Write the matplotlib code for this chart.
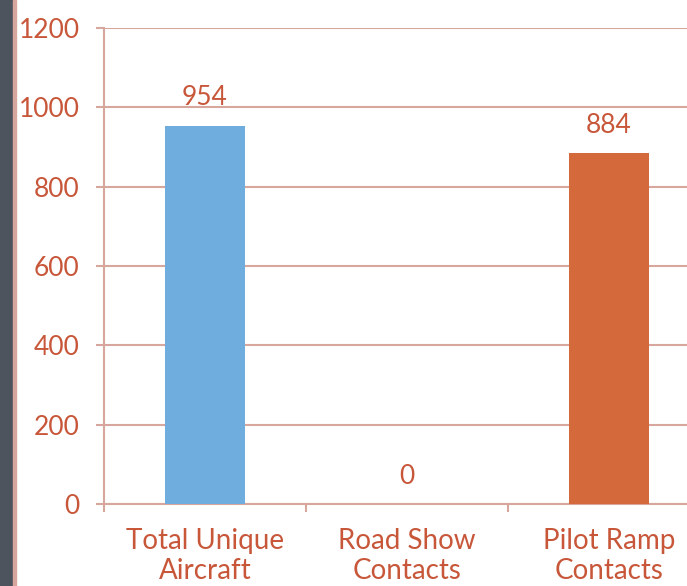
import matplotlib
matplotlib.use("Agg")
import matplotlib.pyplot as plt
from matplotlib.patches import Rectangle

categories = ["Total Unique\nAircraft", "Road Show\nContacts", "Pilot Ramp\nContacts"]
values = [954, 0, 884]
bar_colors = ["#6FADDF", "#D4693B", "#D4693B"]
y_ticks = [0, 200, 400, 600, 800, 1000, 1200]

text_color = "#C8573A"
grid_color = "#D7A69C"

plt.rcParams['font.family'] = ['Lato', 'DejaVu Sans']

fig = plt.figure(figsize=(6.87, 5.86), dpi=100)
# dark side strip + thin line
fig.patches.append(Rectangle((0, 0), 13 / 687, 1, transform=fig.transFigure,
                             color="#4E545D", zorder=0))
fig.patches.append(Rectangle((13 / 687, 0), 2.5 / 687, 1, transform=fig.transFigure,
                             color=grid_color, zorder=0))

ax = fig.add_axes([104 / 687, 1 - 504 / 586, 606 / 687, 476 / 586])

x = list(range(len(categories)))
ax.bar(x, values, width=0.4, color=bar_colors, zorder=3)
for xi, v in zip(x, values):
    ax.annotate(str(v), (xi, v), xytext=(0, 14.5), textcoords="offset points",
                ha="center", va="baseline", fontsize=19, color=text_color)

ax.set_xlim(-0.5, 2.5)
ax.set_ylim(0, 1200)
ax.set_yticks(y_ticks)
ax.set_xticks(x)
ax.set_xticklabels(categories, linespacing=1.2)
ax.set_xticks([-0.5, 0.5, 1.5, 2.5], minor=True)
ax.tick_params(axis="x", which="major", length=0, pad=17, labelsize=20, labelcolor=text_color)
ax.tick_params(axis="x", which="minor", length=6, width=1.5, color=grid_color, direction="out")
ax.tick_params(axis="y", length=6, width=1.5, color=grid_color, pad=11.5, labelsize=19, labelcolor=text_color)

ax.grid(axis="y", color=grid_color, linewidth=1.5, zorder=0)
for s in ["top", "right"]:
    ax.spines[s].set_visible(False)
for s in ["left", "bottom"]:
    ax.spines[s].set_color(grid_color)
    ax.spines[s].set_linewidth(1.5)

fig.savefig("out.png", dpi=100)
